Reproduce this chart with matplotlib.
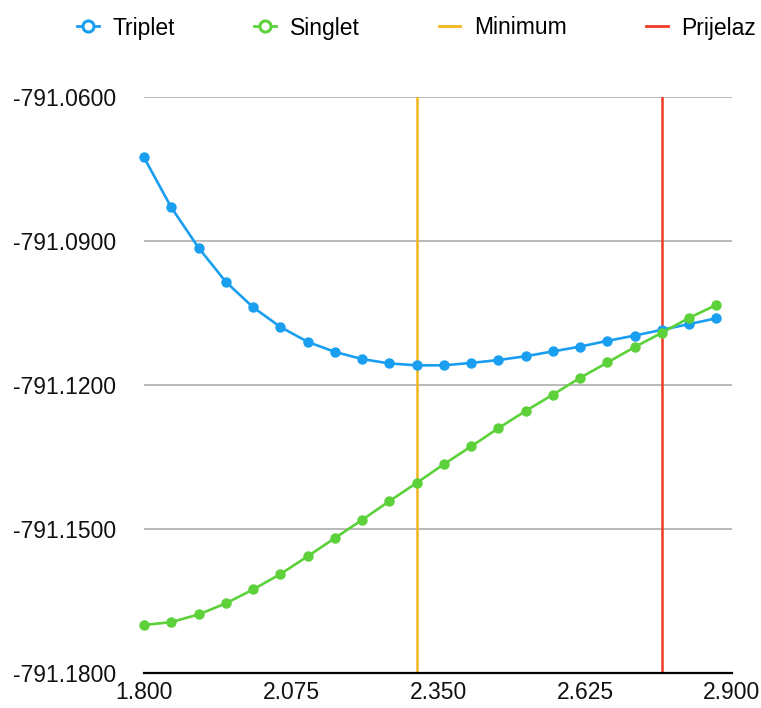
import matplotlib
matplotlib.use("Agg")
import matplotlib.pyplot as plt
from matplotlib.lines import Line2D

plt.rcParams['font.family'] = ['Liberation Sans', 'DejaVu Sans']

# bond length values
x_vals = [1.800, 1.851, 1.902, 1.953, 2.004, 2.055, 2.106, 2.157, 2.208, 2.259, 2.310,
          2.361, 2.412, 2.463, 2.514, 2.565, 2.616, 2.667, 2.718, 2.769, 2.820, 2.871]

triplet = [-791.0726, -791.0830, -791.0914, -791.0985, -791.1038, -791.1079, -791.1110,
           -791.1131, -791.1146, -791.1155, -791.1159, -791.1159, -791.1154, -791.1148,
           -791.1140, -791.1130, -791.1120, -791.1108, -791.1097, -791.1085, -791.1073,
           -791.1061]

singlet = [-791.1700, -791.1694, -791.1678, -791.1655, -791.1626, -791.1594, -791.1557,
           -791.1519, -791.1481, -791.1442, -791.1404, -791.1365, -791.1328, -791.1290,
           -791.1254, -791.1220, -791.1185, -791.1153, -791.1121, -791.1091, -791.1060,
           -791.1033]

minimum_x = 2.310
prijelaz_x = 2.769

x_ticks = [1.800, 2.075, 2.350, 2.625, 2.900]
y_ticks = [-791.18, -791.15, -791.12, -791.09, -791.06]

blue = '#1A9FF0'
green = '#5CD13A'
yellow = '#F5B51E'
red = '#F03A24'

fig = plt.figure(figsize=(7.61, 7.08), dpi=100)
ax = fig.add_axes([144 / 761, 1 - 673 / 708, (732 - 144) / 761, (673 - 97) / 708])

# horizontal grid
for yv in y_ticks[1:]:
    ax.axhline(yv, color='#B4B4B4', lw=1.3, zorder=1)

ax.axvline(minimum_x, color=yellow, lw=1.8, zorder=2)
ax.axvline(prijelaz_x, color=red, lw=1.8, zorder=2)

ax.plot(x_vals, triplet, color=blue, lw=1.9, marker='o', ms=6.5, zorder=3, clip_on=False)
ax.plot(x_vals, singlet, color=green, lw=1.9, marker='o', ms=6.5, zorder=4, clip_on=False)

ax.set_xlim(1.8, 2.9)
ax.set_ylim(-791.18, -791.06)
ax.set_xticks(x_ticks)
ax.set_xticklabels([f'{v:.3f}' for v in x_ticks])
ax.set_yticks(y_ticks)
ax.set_yticklabels([f'{v:.4f}' for v in y_ticks])
ax.tick_params(axis='both', length=0, labelsize=16.5, colors='#111111')
ax.tick_params(axis='y', pad=20)
ax.tick_params(axis='x', pad=6)

for s in ['top', 'left', 'right']:
    ax.spines[s].set_visible(False)
ax.spines['bottom'].set_color('black')
ax.spines['bottom'].set_linewidth(1.6)
ax.spines['bottom'].set_zorder(5)

handles = [
    Line2D([], [], color=blue, lw=2, marker='o', ms=8, mfc='white', mew=2.2),
    Line2D([], [], color=green, lw=2, marker='o', ms=8, mfc='white', mew=2.2),
    Line2D([], [], color=yellow, lw=2),
    Line2D([], [], color=red, lw=2),
]
labels = ['Triplet', 'Singlet', 'Minimum', 'Prijelaz']
fig.legend(handles, labels, loc='center left', bbox_to_anchor=(77 / 761, 1 - 28 / 708),
           ncol=4, frameon=False, fontsize=16.5, handlelength=0.95, handletextpad=0.6,
           columnspacing=3.45, borderpad=0, borderaxespad=0)

fig.savefig('out.png', dpi=100, facecolor='white')
